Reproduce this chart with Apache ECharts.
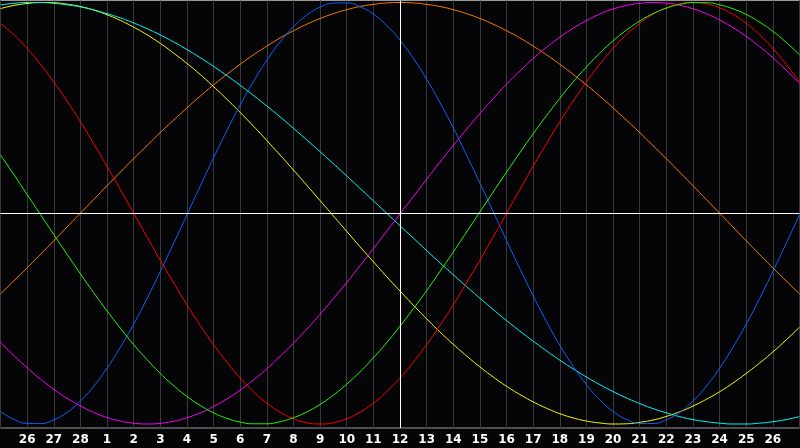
<!DOCTYPE html>
<html><head><meta charset="utf-8">
<script src="https://cdn.jsdelivr.net/npm/echarts@6/dist/echarts.min.js"></script>
<style>html,body{margin:0;padding:0;background:#050508;}#c{width:800px;height:448px;}</style>
</head><body><div id="c"></div>
<script>
// day index 0..30 along the axis; labels shown for index 1..29
const dayLabels = ['25','26','27','28','1','2','3','4','5','6','7','8','9','10','11','12','13','14','15','16','17','18','19','20','21','22','23','24','25','26','27'];
const centerIndex = 15;
// values sampled every half day, from index 0 to index 30 (61 samples)
const blue23 = [-0.940,-0.978,-0.997,-0.998,-0.980,-0.945,-0.891,-0.821,-0.735,-0.636,-0.526,-0.405,-0.276,-0.143,-0.007,0.129,0.263,0.392,0.514,0.626,0.726,0.813,0.885,0.940,0.978,0.997,0.998,0.980,0.945,0.891,0.821,0.735,0.636,0.525,0.405,0.276,0.143,0.007,-0.129,-0.263,-0.392,-0.514,-0.626,-0.726,-0.813,-0.885,-0.940,-0.978,-0.997,-0.998,-0.980,-0.945,-0.891,-0.821,-0.735,-0.636,-0.526,-0.405,-0.276,-0.143,-0.007];
const red28 = [0.901,0.847,0.782,0.707,0.623,0.532,0.434,0.330,0.223,0.112,0.000,-0.112,-0.223,-0.330,-0.434,-0.532,-0.623,-0.707,-0.782,-0.847,-0.901,-0.944,-0.975,-0.994,-1.000,-0.994,-0.975,-0.944,-0.901,-0.847,-0.782,-0.707,-0.623,-0.532,-0.434,-0.330,-0.223,-0.112,0.000,0.112,0.223,0.330,0.434,0.532,0.623,0.707,0.782,0.847,0.901,0.944,0.975,0.994,1.000,0.994,0.975,0.944,0.901,0.847,0.782,0.707,0.623];
const green33 = [0.276,0.184,0.089,-0.006,-0.101,-0.195,-0.287,-0.377,-0.463,-0.545,-0.623,-0.694,-0.760,-0.818,-0.869,-0.912,-0.947,-0.973,-0.991,-0.999,-0.999,-0.989,-0.970,-0.943,-0.907,-0.863,-0.811,-0.752,-0.686,-0.614,-0.536,-0.453,-0.367,-0.276,-0.184,-0.089,0.006,0.101,0.195,0.287,0.377,0.463,0.545,0.623,0.694,0.760,0.818,0.869,0.912,0.947,0.973,0.991,0.999,0.999,0.989,0.970,0.943,0.907,0.863,0.811,0.752];
const magenta38 = [-0.612,-0.675,-0.733,-0.787,-0.835,-0.878,-0.914,-0.945,-0.969,-0.986,-0.996,-1.000,-0.997,-0.987,-0.970,-0.947,-0.917,-0.881,-0.839,-0.791,-0.738,-0.679,-0.617,-0.550,-0.479,-0.405,-0.328,-0.249,-0.168,-0.086,-0.003,0.079,0.161,0.242,0.322,0.399,0.473,0.544,0.612,0.675,0.734,0.787,0.835,0.878,0.914,0.945,0.969,0.986,0.996,1.000,0.997,0.987,0.970,0.947,0.917,0.881,0.839,0.791,0.738,0.679,0.617];
const yellow43 = [0.971,0.986,0.995,1.000,0.999,0.992,0.981,0.964,0.942,0.915,0.883,0.847,0.806,0.760,0.711,0.658,0.601,0.541,0.478,0.413,0.345,0.276,0.205,0.133,0.060,-0.013,-0.086,-0.159,-0.230,-0.301,-0.369,-0.436,-0.501,-0.563,-0.622,-0.677,-0.729,-0.777,-0.821,-0.860,-0.895,-0.925,-0.951,-0.971,-0.986,-0.995,-1.000,-0.999,-0.992,-0.981,-0.964,-0.942,-0.915,-0.883,-0.847,-0.806,-0.760,-0.711,-0.658,-0.601,-0.541];
const orange48 = [-0.383,-0.321,-0.259,-0.195,-0.131,-0.065,0.000,0.065,0.131,0.195,0.259,0.321,0.383,0.442,0.500,0.556,0.609,0.659,0.707,0.752,0.793,0.832,0.866,0.897,0.924,0.947,0.966,0.981,0.991,0.998,1.000,0.998,0.991,0.981,0.966,0.947,0.924,0.897,0.866,0.832,0.793,0.752,0.707,0.659,0.609,0.556,0.500,0.442,0.383,0.321,0.259,0.195,0.131,0.065,0.000,-0.065,-0.131,-0.195,-0.259,-0.321,-0.383];
const cyan53 = [0.989,0.996,1.000,1.000,0.996,0.989,0.979,0.965,0.947,0.927,0.903,0.876,0.846,0.813,0.777,0.738,0.697,0.653,0.607,0.559,0.509,0.457,0.403,0.348,0.292,0.235,0.177,0.118,0.059,0.000,-0.059,-0.118,-0.177,-0.235,-0.292,-0.348,-0.403,-0.457,-0.509,-0.559,-0.607,-0.653,-0.697,-0.738,-0.777,-0.813,-0.846,-0.876,-0.903,-0.927,-0.947,-0.965,-0.979,-0.989,-0.996,-1.000,-1.000,-0.996,-0.989,-0.979,-0.965];

const seriesDefs = [
  {name:'orange', data: orange48, color:'#ff8000'},
  {name:'yellow', data: yellow43, color:'#ffff00'},
  {name:'cyan', data: cyan53, color:'#00ffff'},
  {name:'magenta', data: magenta38, color:'#ff00ff'},
  {name:'blue', data: blue23, color:'#0a64ff'},
  {name:'red', data: red28, color:'#ff0000'},
  {name:'green', data: green33, color:'#20ff00'}
];

const chart = echarts.init(document.getElementById('c'));
const series = seriesDefs.map(s => ({
  type:'line', name:s.name, smooth:0.5, showSymbol:false, silent:true,
  data: s.data.map((v,i)=>[i/2,v]),
  lineStyle:{color:s.color, width:1}, itemStyle:{color:s.color}
}));
series.push({
  type:'line', data:[], silent:true,
  markLine:{silent:true, symbol:'none', label:{show:false}, animation:false,
    lineStyle:{color:'#ffffff', width:1, type:'solid'},
    data:[{xAxis:centerIndex},{yAxis:0}]}
});
chart.setOption({
  animation:false,
  backgroundColor:'#050508',
  grid:{left:0.5, right:0.5, top:0.5, height:427.5, show:true, borderColor:'#9a9a9a', borderWidth:1, backgroundColor:'transparent'},
  xAxis:{type:'value', min:0, max:30, interval:1,
    axisLine:{show:false}, axisTick:{show:false},
    splitLine:{show:true, lineStyle:{color:'#3a3a3a', width:1}},
    axisLabel:{color:'#ffffff', fontWeight:'bold', fontSize:12, fontFamily:'DejaVu Sans', margin:6,
      showMinLabel:false, showMaxLabel:false,
      formatter: v => dayLabels[v] || ''}
  },
  yAxis:{type:'value', min:-1.019, max:1.0095, show:false, splitLine:{show:false}},
  series: series
});
</script></body></html>
